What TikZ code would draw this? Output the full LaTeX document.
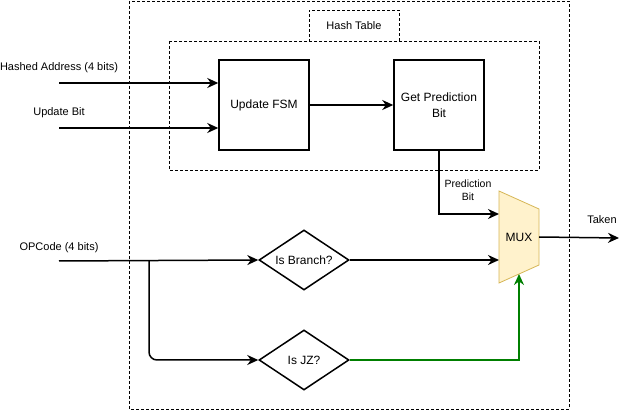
\documentclass[tikz,border=0pt]{standalone}
\usepackage{fontspec}
\setmainfont{Liberation Sans}
\usetikzlibrary{shapes.geometric,arrows.meta}
\definecolor{muxfill}{HTML}{FFF2CC}
\definecolor{muxdraw}{HTML}{D6B656}
\definecolor{jzgreen}{HTML}{007F00}
\begin{document}
\begin{tikzpicture}[x=1pt,y=-1pt,
  lbl/.style={font=\fontsize{11}{13}\selectfont, inner sep=0pt},
  small/.style={font=\fontsize{10.5}{13}\selectfont, inner sep=0pt, align=center},
  blockbox/.style={draw, line width=1.5pt, minimum width=90pt, minimum height=90pt, align=center, font=\fontsize{12}{14}\selectfont, inner sep=0pt},
  decision/.style={draw, diamond, line width=1.5pt, minimum width=90pt, minimum height=60pt, aspect=1.5, inner sep=0pt, font=\fontsize{12}{14}\selectfont},
  wire/.style={line width=1.5pt, -{Stealth[length=11pt,width=10pt]}},
  region/.style={draw, dashed, line width=0.8pt, dash pattern=on 3pt off 2pt}
]
\useasboundingbox (0,0) rectangle (629,411);
% outer and inner dashed regions
\draw[region] (129,1) rectangle (569,409);
\draw[region] (169,41) rectangle (539,170);
\node[region, minimum width=90pt, minimum height=31pt, inner sep=0pt, font=\fontsize{11}{13}\selectfont] (ht) at (354,25.5) {Hash Table};

% blocks
\node[blockbox] (fsm) at (264,105) {Update FSM};
\node[blockbox] (gpb) at (439,105) {Get Prediction\\[2pt]Bit};

% mux trapezoid
\coordinate (m1) at (499,191);
\coordinate (m2) at (539,209);
\coordinate (m3) at (539,265);
\coordinate (m4) at (499,283);
\draw[muxdraw, fill=muxfill, line width=0.8pt] (m1) -- (m2) -- (m3) -- (m4) -- cycle;
\node[font=\fontsize{12}{14}\selectfont, inner sep=0pt] (mux) at (519,237) {MUX};
\coordinate (muxin1) at (499,214);
\coordinate (muxin2) at (499,260);
\coordinate (muxbot) at (519,274);
\coordinate (muxout) at (539,237);

% decisions
\node[decision] (br) at (304,260) {Is Branch?};
\node[decision] (jz) at (304,360) {Is JZ?};

% inputs
\coordinate (ha) at (59,83);
\coordinate (ub) at (59,128);
\coordinate (op) at (59,261);
\coordinate (split) at (149,261);
\coordinate (tk) at (619,238);
\node[lbl] (hal) at (59,68) {Hashed Address (4 bits)};
\node[lbl] (ubl) at (59,113) {Update Bit};
\node[lbl] (opl) at (59,248) {OPCode (4 bits)};
\node[lbl] (tkl) at (602,220) {Taken};
\node[small] (pbl) at (468,190) {Prediction\\Bit};

% connectors
\draw[wire] (ha) -- (ha -| fsm.west);
\draw[wire] (ub) -- (ub -| fsm.west);
\draw[wire] (fsm.east) -- (gpb.west);
\draw[wire] (gpb.south) |- (muxin1);
\draw[wire] (op) -- (br.west);
\draw[wire, rounded corners=8pt] (split) |- (jz.west);
\draw[wire] (br.east) -- (muxin2);
\draw[wire, jzgreen] (jz.east) -| (muxbot);
\draw[wire] (muxout) -- (tk);
\end{tikzpicture}
\end{document}
